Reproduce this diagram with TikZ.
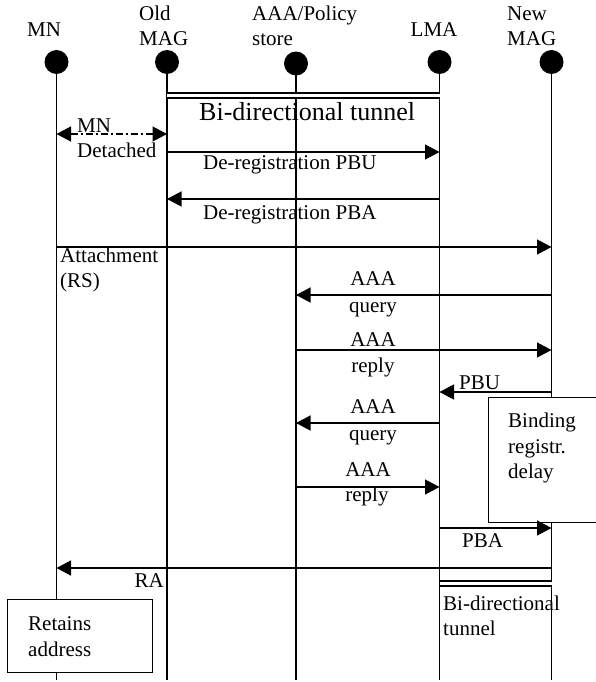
\documentclass[tikz,border=0pt]{standalone}
\usepackage{fontspec}
\setmainfont{Liberation Serif}
\usetikzlibrary{arrows.meta}
\begin{document}
\begin{tikzpicture}[x=1pt,y=-1pt,
  txt/.style={font=\fontsize{21}{25}\selectfont, inner sep=0pt},
  bigtxt/.style={font=\fontsize{26}{30}\selectfont, inner sep=0pt},
  head/.style={circle, fill=black, minimum size=24pt, inner sep=0pt},
  life/.style={line width=1.7pt},
  msg/.style={line width=1.3pt, -{Triangle[length=14.5pt,width=15pt]}},
  dmsg/.style={line width=1.3pt, {Triangle[length=14.5pt,width=15pt]}-{Triangle[length=14.5pt,width=15pt]}, dash pattern=on 7pt off 3pt on 2pt off 3pt},
  tun/.style={double, double distance=3.2pt, line width=1.5pt},
  boxstyle/.style={draw, line width=1.2pt, fill=white, inner sep=0pt, anchor=north west}
]
\path[use as bounding box] (0,0) rectangle (596,682);
\clip (0,0) rectangle (596,682);

% heads
\node[head] (mn) at (56.5,62) {};
\node[head] (omag) at (167,62) {};
\node[head] (aaa) at (296,63.5) {};
\node[head] (lma) at (439.5,62) {};
\node[head] (nmag) at (551.5,62) {};

% bottom ends
\coordinate (bot) at (0,680);
\draw[life] (mn.center) -- (mn |- bot);
\draw[life] (omag.center) -- (omag |- bot);
\draw[life] (aaa.center) -- (aaa |- bot);
\draw[life] (lma.center) -- (lma |- bot);
\draw[life] (nmag.center) -- (nmag |- bot);

% header labels
\node[txt, anchor=base] (tMN) at (44,37) {MN};
\node[txt, anchor=base west] (tOld) at (139,21) {Old};
\node[txt, anchor=base west] (tOldMAG) at (139,46) {MAG};
\node[txt, anchor=base west] (tAAA) at (252,21) {AAA/Policy};
\node[txt, anchor=base west] (tStore) at (252,46) {store};
\node[txt, anchor=base] (tLMA) at (434,37) {LMA};
\node[txt, anchor=base west] (tNew) at (507,21) {New};
\node[txt, anchor=base west] (tNewMAG) at (507,46) {MAG};

% boxes
\node[boxstyle, minimum width=130pt, minimum height=125pt] (bind) at (488,397) {};
\node[boxstyle, minimum width=145pt, minimum height=73pt] (retain) at (7,599) {};

% y levels
\coordinate (yT1) at (0,95.5);
\coordinate (yDet) at (0,134);
\coordinate (y1) at (0,152);
\coordinate (y2) at (0,199);
\coordinate (y3) at (0,247);
\coordinate (y4) at (0,295);
\coordinate (y5) at (0,350);
\coordinate (y6) at (0,392);
\coordinate (y7) at (0,423);
\coordinate (y8) at (0,487);
\coordinate (y9) at (0,528);
\coordinate (y10) at (0,568);
\coordinate (yT2) at (0,583.5);

% tunnels
\draw[tun] (omag |- yT1) -- (lma |- yT1);
\draw[tun] (lma |- yT2) -- (nmag |- yT2);

% messages
\draw[dmsg] (mn |- yDet) -- (omag |- yDet);
\draw[msg] (omag |- y1) -- (lma |- y1);
\draw[msg] (lma |- y2) -- (omag |- y2);
\draw[msg] (mn |- y3) -- (nmag |- y3);
\draw[msg] (nmag |- y4) -- (aaa |- y4);
\draw[msg] (aaa |- y5) -- (nmag |- y5);
\draw[msg] (nmag |- y6) -- (lma |- y6);
\draw[msg] (lma |- y7) -- (aaa |- y7);
\draw[msg] (aaa |- y8) -- (lma |- y8);
\draw[msg] (lma |- y9) -- (nmag |- y9);
\draw[msg] (nmag |- y10) -- (mn |- y10);

% labels
\node[bigtxt, anchor=base west] (tTun1) at (199,121) {Bi-directional tunnel};
\node[txt, anchor=base west] (tDetMN) at (77,132) {MN};
\node[txt, anchor=base west] (tDet) at (77,157) {Detached};
\node[txt, anchor=base west] (tPBU1) at (203,169) {De-registration PBU};
\node[txt, anchor=base west] (tPBA1) at (203,219) {De-registration PBA};
\node[txt, anchor=base west] (tAtt) at (60,262) {Attachment};
\node[txt, anchor=base west] (tRS) at (60,287) {(RS)};
\node[txt, anchor=base] (tQ1a) at (373,285) {AAA};
\node[txt, anchor=base] (tQ1b) at (373,312) {query};
\node[txt, anchor=base] (tR1a) at (373,346) {AAA};
\node[txt, anchor=base] (tR1b) at (373,372) {reply};
\node[txt, anchor=base west] (tPBU2) at (459,389) {PBU};
\node[txt, anchor=base] (tQ2a) at (373,413) {AAA};
\node[txt, anchor=base] (tQ2b) at (373,440) {query};
\node[txt, anchor=base] (tR2a) at (368,476) {AAA};
\node[txt, anchor=base] (tR2b) at (367,501) {reply};
\node[txt, anchor=base west] (tBind1) at (508,427) {Binding};
\node[txt, anchor=base west] (tBind2) at (508,453) {registr.};
\node[txt, anchor=base west] (tBind3) at (508,478) {delay};
\node[txt, anchor=base west] (tPBA2) at (462,547) {PBA};
\node[txt, anchor=base east] (tRA) at (164,587) {RA};
\node[txt, anchor=base west] (tTun2a) at (443,610) {Bi-directional};
\node[txt, anchor=base west] (tTun2b) at (443,635) {tunnel};
\node[txt, anchor=base west] (tRet1) at (28,630) {Retains};
\node[txt, anchor=base west] (tRet2) at (28,656) {address};
\end{tikzpicture}
\end{document}
